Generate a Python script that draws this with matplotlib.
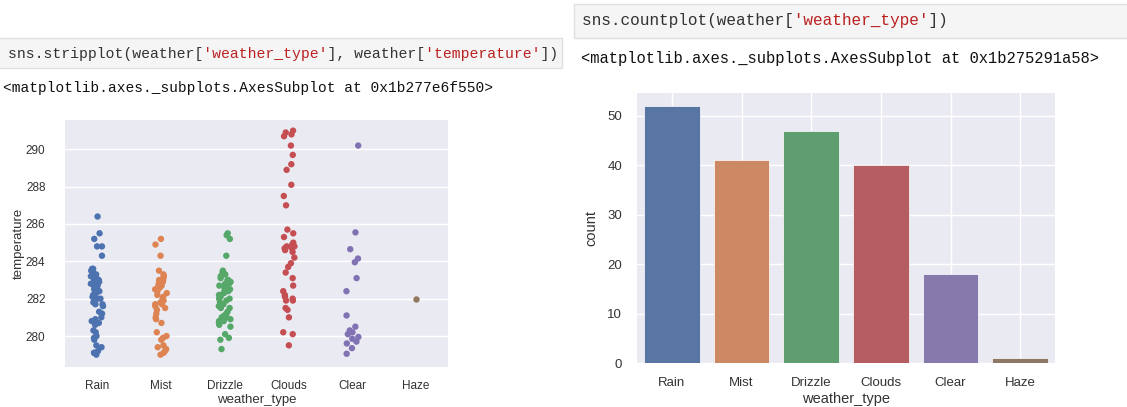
import numpy as np
import pandas as pd
import matplotlib
matplotlib.use("Agg")
import matplotlib.pyplot as plt
from matplotlib.patches import Rectangle
import seaborn as sns

# ---------------- data ----------------
categories = ["Rain", "Mist", "Drizzle", "Clouds", "Clear", "Haze"]

rain_temp = [286.4, 285.5, 285.2, 284.8, 284.8, 284.3, 283.6, 283.6, 283.5, 283.3,
             283.2, 283.1, 283.0, 283.0, 282.9, 282.9, 282.8, 282.7, 282.7, 282.6,
             282.5, 282.4, 282.3, 282.1, 282.0, 282.0, 281.9, 281.8, 281.7, 281.7,
             281.6, 281.3, 281.2, 281.0, 280.9, 280.8, 280.7, 280.7, 280.6, 280.3,
             280.2, 280.0, 279.9, 279.8, 279.5, 279.4, 279.2, 279.1, 279.1, 279.0,
             282.2, 283.4]
mist_temp = [285.2, 284.9, 284.3, 283.5, 283.3, 283.2, 283.1, 283.0, 283.0, 282.9,
             282.8, 282.7, 282.7, 282.6, 282.5, 282.4, 282.3, 282.2, 282.1, 282.0,
             281.9, 281.8, 281.7, 281.7, 281.6, 281.4, 281.2, 281.0, 280.9, 280.7,
             280.2, 280.0, 279.9, 279.8, 279.5, 279.4, 279.3, 279.2, 279.1, 279.0,
             281.5]
drizzle_temp = [285.5, 285.4, 285.2, 284.3, 283.5, 283.3, 283.2, 283.1, 283.0, 283.0,
                282.9, 282.8, 282.8, 282.7, 282.6, 282.5, 282.4, 282.4, 282.3, 282.2,
                282.1, 282.0, 282.0, 281.9, 281.8, 281.7, 281.6, 281.5, 281.3, 281.2,
                281.1, 281.0, 281.0, 280.9, 280.8, 280.8, 280.7, 280.6, 280.5, 280.1,
                279.9, 279.8, 279.3, 282.6, 281.5, 283.4, 282.2]
clouds_temp = [291.0, 290.9, 290.8, 290.7, 290.2, 289.7, 289.2, 288.9, 288.1, 287.5,
               287.0, 285.7, 285.5, 285.3, 285.0, 284.9, 284.8, 284.8, 284.7, 284.6,
               284.5, 284.2, 283.9, 283.7, 283.4, 283.1, 282.7, 282.4, 282.2, 282.0,
               281.9, 281.9, 281.5, 281.4, 281.0, 280.2, 280.1, 279.5, 284.7, 282.1]
clear_temp = [290.2, 285.55, 284.65, 284.15, 283.95, 283.1, 282.4, 281.1, 280.5, 280.3,
              280.2, 280.1, 279.95, 279.85, 279.7, 279.6, 279.35, 279.05]
haze_temp = [282.0]

temps_by_type = [rain_temp, mist_temp, drizzle_temp, clouds_temp, clear_temp, haze_temp]
counts = [len(t) for t in temps_by_type]   # 52, 41, 47, 40, 18, 1

temp_ticks = [280, 282, 284, 286, 288, 290]
count_ticks = [0, 10, 20, 30, 40, 50]

weather = pd.DataFrame({
    "weather_type": np.concatenate([[c] * len(t) for c, t in zip(categories, temps_by_type)]),
    "temperature": np.concatenate(temps_by_type),
})

# ---------------- style ----------------
sns.set_theme(style="darkgrid")
plt.rcParams["font.family"] = ["Liberation Sans", "DejaVu Sans"]

W, H = 1127, 407
fig = plt.figure(figsize=(W / 100, H / 100), dpi=100)
fig.patch.set_facecolor("white")

palette = sns.color_palette("deep", len(categories))
bar_colors = [sns.desaturate(c, 0.75) for c in palette]

def px_axes(x0, y0, x1, y1):
    return fig.add_axes([x0 / W, (H - y1) / H, (x1 - x0) / W, (y1 - y0) / H])

# ---------------- code cells ----------------
MONO = "Liberation Mono"
CODE_FG = "#333333"
STR_FG = "#ba2121"

def draw_code(x_px, y_px, segments, char_px):
    """Draw one code line; each colour is a full-length line with other parts blanked."""
    fs = char_px / 0.6 * 72 / 100
    colours = []
    for _, col in segments:
        if col not in colours:
            colours.append(col)
    for col in colours:
        line = "".join(t if c == col else " " * len(t) for t, c in segments)
        fig.text(x_px / W, 1 - y_px / H, line, color=col,
                 fontsize=fs, family=MONO, va="center", ha="left")

def cell_box(x0, y0, x1, y1):
    fig.add_artist(Rectangle((x0 / W, 1 - y1 / H), (x1 - x0) / W, (y1 - y0) / H,
                             transform=fig.transFigure, facecolor="#f5f5f5",
                             edgecolor="#e0e0e0", linewidth=1))

cell_box(-2, 38, 562, 68)
draw_code(8, 54, [("sns.stripplot(weather[", CODE_FG), ("'weather_type'", STR_FG),
                  ("], weather[", CODE_FG), ("'temperature'", STR_FG), ("])", CODE_FG)], 8.82)
draw_code(3, 88, [("<matplotlib.axes._subplots.AxesSubplot at 0x1b277e6f550>", "#111111")], 8.72)

cell_box(574, 4, 1130, 38)
draw_code(582, 20, [("sns.countplot(weather[", CODE_FG), ("'weather_type'", STR_FG),
                    ("])", CODE_FG)], 9.7)
draw_code(581, 58, [("<matplotlib.axes._subplots.AxesSubplot at 0x1b275291a58>", "#111111")], 9.33)

# ---------------- strip plot ----------------
ax1 = px_axes(65, 120, 448, 367)
np.random.seed(3)
sns.stripplot(data=weather, x="weather_type", y="temperature", hue="weather_type",
              order=categories, hue_order=categories, palette=palette,
              legend=False, size=4.6, jitter=True, ax=ax1)
ax1.set_xlim(-0.5, len(categories) - 0.5)
ax1.set_ylim(278.34, 291.57)
ax1.set_yticks(temp_ticks)
ax1.set_yticklabels([str(t) for t in temp_ticks])
ax1.tick_params(axis="y", labelsize=8.5, pad=14, length=0, colors="#333333")
ax1.tick_params(axis="x", labelsize=8.5, pad=9.2, length=0, colors="#333333")
ax1.set_xlabel("weather_type", fontsize=9.5, color="#333333", labelpad=1.5)
ax1.set_ylabel("temperature", fontsize=9.5, color="#333333", labelpad=1)

# ---------------- count plot ----------------
ax2 = px_axes(637, 93, 1055, 363)
x_pos = np.arange(len(categories))
ax2.bar(x_pos, counts, width=0.8, color=bar_colors, edgecolor="white", linewidth=0.5)
ax2.set_xticks(x_pos)
ax2.set_xticklabels(categories)
ax2.set_xlim(-0.5, len(categories) - 0.5)
ax2.set_ylim(0, max(counts) * 1.05)
ax2.set_yticks(count_ticks)
ax2.tick_params(axis="y", labelsize=9.5, pad=10.8, length=0, colors="#333333")
ax2.tick_params(axis="x", labelsize=9.5, pad=10.0, length=0, colors="#333333")
ax2.set_xlabel("weather_type", fontsize=10.5, color="#333333", labelpad=2)
ax2.set_ylabel("count", fontsize=10.5, color="#333333", labelpad=6)

for ax in (ax1, ax2):
    for s in ax.spines.values():
        s.set_visible(False)

fig.savefig("out.png", dpi=100)
